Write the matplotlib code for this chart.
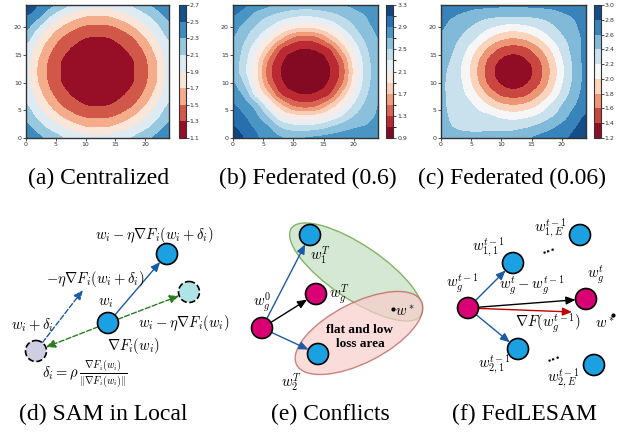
import numpy as np
import matplotlib
matplotlib.use("Agg")
import matplotlib.pyplot as plt
from matplotlib.colors import BoundaryNorm, ListedColormap
from matplotlib.patches import Circle, Ellipse

plt.rcParams['mathtext.fontset'] = 'cm'

W, H = 622, 432
SERIF = ['Liberation Serif', 'DejaVu Serif']

# loss landscape grids, rows are y = 0, 2, ..., 24
GRID = [0, 2, 4, 6, 8, 10, 12, 14, 16, 18, 20, 22, 24]

LOSS_CENTRAL = [
    [2.48, 2.36, 2.24, 2.12, 2.04, 1.98, 1.96, 1.98, 2.04, 2.12, 2.24, 2.36, 2.48],
    [2.36, 2.20, 2.05, 1.92, 1.80, 1.71, 1.69, 1.71, 1.80, 1.92, 2.05, 2.20, 2.36],
    [2.24, 2.05, 1.87, 1.69, 1.55, 1.47, 1.45, 1.47, 1.55, 1.69, 1.87, 2.05, 2.24],
    [2.12, 1.92, 1.69, 1.49, 1.38, 1.30, 1.29, 1.30, 1.38, 1.49, 1.69, 1.92, 2.12],
    [2.04, 1.80, 1.55, 1.38, 1.27, 1.22, 1.21, 1.22, 1.27, 1.38, 1.55, 1.80, 2.04],
    [1.98, 1.71, 1.47, 1.30, 1.22, 1.18, 1.17, 1.18, 1.22, 1.30, 1.47, 1.71, 1.98],
    [1.96, 1.69, 1.45, 1.29, 1.21, 1.17, 1.15, 1.17, 1.21, 1.29, 1.45, 1.69, 1.96],
    [1.98, 1.71, 1.47, 1.30, 1.22, 1.18, 1.17, 1.18, 1.22, 1.30, 1.47, 1.71, 1.98],
    [2.04, 1.80, 1.55, 1.38, 1.27, 1.22, 1.21, 1.22, 1.27, 1.38, 1.55, 1.80, 2.04],
    [2.20, 1.92, 1.69, 1.49, 1.38, 1.30, 1.29, 1.30, 1.38, 1.49, 1.69, 1.92, 2.12],
    [2.36, 2.12, 1.87, 1.69, 1.55, 1.47, 1.45, 1.47, 1.55, 1.69, 1.87, 2.05, 2.24],
    [2.50, 2.36, 2.12, 1.92, 1.80, 1.71, 1.69, 1.71, 1.80, 1.92, 2.05, 2.20, 2.36],
    [2.68, 2.50, 2.36, 2.20, 2.04, 1.98, 1.96, 1.98, 2.04, 2.12, 2.24, 2.36, 2.48],
]
LOSS_FED_06 = [
    [3.25, 3.08, 2.92, 2.80, 2.72, 2.66, 2.71, 2.74, 2.77, 2.80, 2.82, 2.84, 2.85],
    [3.12, 2.98, 2.85, 2.70, 2.48, 2.38, 2.36, 2.40, 2.50, 2.60, 2.68, 2.72, 2.78],
    [3.00, 2.90, 2.72, 2.45, 2.11, 1.97, 1.92, 1.97, 2.11, 2.30, 2.50, 2.62, 2.72],
    [2.92, 2.78, 2.55, 2.10, 1.73, 1.46, 1.38, 1.46, 1.73, 2.02, 2.32, 2.55, 2.70],
    [2.80, 2.62, 2.15, 1.73, 1.29, 1.14, 1.09, 1.14, 1.29, 1.73, 2.14, 2.46, 2.65],
    [2.72, 2.45, 1.97, 1.46, 1.14, 1.02, 0.99, 1.02, 1.14, 1.46, 2.00, 2.40, 2.62],
    [2.62, 2.33, 1.92, 1.38, 1.09, 0.99, 0.95, 0.99, 1.09, 1.38, 1.95, 2.37, 2.61],
    [2.62, 2.36, 1.97, 1.46, 1.14, 1.02, 0.99, 1.02, 1.14, 1.46, 2.00, 2.40, 2.62],
    [2.66, 2.42, 2.11, 1.73, 1.29, 1.14, 1.09, 1.14, 1.29, 1.73, 2.14, 2.46, 2.65],
    [2.70, 2.52, 2.30, 2.02, 1.73, 1.46, 1.38, 1.46, 1.73, 2.02, 2.32, 2.55, 2.70],
    [2.78, 2.62, 2.46, 2.30, 2.11, 1.97, 1.92, 1.97, 2.11, 2.30, 2.48, 2.64, 2.74],
    [2.90, 2.78, 2.60, 2.50, 2.40, 2.33, 2.30, 2.33, 2.40, 2.50, 2.60, 2.70, 2.80],
    [3.02, 2.92, 2.80, 2.72, 2.64, 2.60, 2.58, 2.60, 2.63, 2.68, 2.74, 2.80, 2.86],
]
LOSS_FED_006 = [
    [2.50, 2.47, 2.45, 2.44, 2.45, 2.47, 2.50, 2.57, 2.64, 2.70, 2.76, 2.84, 2.92],
    [2.46, 2.40, 2.37, 2.36, 2.36, 2.34, 2.34, 2.38, 2.45, 2.55, 2.66, 2.78, 2.88],
    [2.44, 2.37, 2.32, 2.26, 2.23, 2.15, 2.11, 2.15, 2.23, 2.36, 2.50, 2.68, 2.82],
    [2.43, 2.35, 2.28, 2.16, 1.99, 1.85, 1.80, 1.85, 1.99, 2.20, 2.40, 2.58, 2.72],
    [2.43, 2.33, 2.20, 1.99, 1.74, 1.55, 1.50, 1.55, 1.74, 1.99, 2.26, 2.50, 2.68],
    [2.43, 2.32, 2.15, 1.85, 1.55, 1.38, 1.31, 1.38, 1.55, 1.85, 2.18, 2.45, 2.66],
    [2.45, 2.32, 2.11, 1.80, 1.50, 1.31, 1.25, 1.31, 1.50, 1.80, 2.14, 2.44, 2.66],
    [2.48, 2.36, 2.15, 1.85, 1.55, 1.38, 1.31, 1.38, 1.55, 1.85, 2.18, 2.45, 2.66],
    [2.52, 2.41, 2.23, 1.99, 1.74, 1.55, 1.50, 1.55, 1.74, 1.99, 2.26, 2.48, 2.66],
    [2.57, 2.46, 2.34, 2.18, 1.99, 1.85, 1.80, 1.85, 1.99, 2.18, 2.36, 2.50, 2.66],
    [2.62, 2.53, 2.44, 2.34, 2.23, 2.15, 2.11, 2.15, 2.23, 2.34, 2.46, 2.56, 2.68],
    [2.66, 2.61, 2.55, 2.48, 2.44, 2.42, 2.41, 2.42, 2.44, 2.48, 2.56, 2.62, 2.70],
    [2.74, 2.70, 2.67, 2.65, 2.64, 2.63, 2.63, 2.63, 2.64, 2.65, 2.67, 2.70, 2.74],
]

LEVELS_CENTRAL = [1.1, 1.3, 1.5, 1.7, 1.9, 2.1, 2.3, 2.5, 2.7]
LEVELS_FED_06 = [0.9, 1.1, 1.3, 1.5, 1.7, 1.9, 2.1, 2.3, 2.5, 2.7, 2.9, 3.1, 3.3]
LEVELS_FED_006 = [1.2, 1.4, 1.6, 1.8, 2.0, 2.2, 2.4, 2.6, 2.8, 3.0]
TICKS_CENTRAL = ['1.1', '1.3', '1.5', '1.7', '1.9', '2.1', '2.3', '2.5', '2.7']
TICKS_FED_06 = ['0.9', '1.3', '1.7', '2.1', '2.5', '2.9', '3.3']
TICKS_FED_006 = ['1.2', '1.4', '1.6', '1.8', '2.0', '2.2', '2.4', '2.6', '2.8', '3.0']

CAPTIONS = ['(a) Centralized', '(b) Federated (0.6)', '(c) Federated (0.06)',
            '(d) SAM in Local', '(e) Conflicts', '(f) FedLESAM']

BLUE = '#1ba1e2'
MAGENTA = '#d80073'
ARROW_BLUE = '#1c5aa6'
ARROW_GREEN = '#2a7d1e'
ARROW_RED = '#c00000'
R = 10.5


def px_box(x0, y0, x1, y1):
    return [x0 / W, 1 - y1 / H, (x1 - x0) / W, (y1 - y0) / H]


def contour_panel(fig, box, cbox, z, levels, ticklabels):
    ax = fig.add_axes(px_box(*box))
    n = len(levels) - 1
    # same band colours contourf would give: RdBu sampled at band middles
    cmap = ListedColormap(plt.get_cmap('RdBu')((np.arange(n) + 0.5) / n))
    norm = BoundaryNorm(levels, n)
    step = GRID[1] - GRID[0]
    ext = (GRID[0] - step / 2, GRID[-1] + step / 2) * 2
    im = ax.imshow(np.asarray(z), origin='lower', extent=ext, cmap=cmap, norm=norm,
                   interpolation='catrom', interpolation_stage='data', aspect='auto')
    ax.set_xlim(0, 24)
    ax.set_ylim(0, 24)
    ax.set_xticks([0, 5, 10, 15, 20])
    ax.set_yticks([0, 5, 10, 15, 20])
    ax.tick_params(labelsize=4.5, length=2, width=0.6, pad=1, colors='#333333')
    for sp in ax.spines.values():
        sp.set_linewidth(1.0)
        sp.set_color('#333333')
    cax = fig.add_axes(px_box(*cbox))
    ticks = [float(t) for t in ticklabels]
    cb = fig.colorbar(im, cax=cax, ticks=ticks)
    cb.ax.set_yticklabels(ticklabels)
    cb.ax.tick_params(labelsize=4.5, length=2, width=0.6, pad=1, colors='#333333')
    cb.outline.set_linewidth(0.8)
    cb.outline.set_edgecolor('#333333')


def node(ax, xy, fc, dashed=False):
    ax.add_patch(Circle(xy, R, fc=fc, ec='black', lw=1.2,
                        ls='--' if dashed else '-', zorder=3))


def arrow(ax, p0, p1, color, ls='-', r0=R, r1=R):
    p0 = np.array(p0, float)
    p1 = np.array(p1, float)
    d = (p1 - p0) / np.hypot(*(p1 - p0))
    a = p0 + d * r0
    b = p1 - d * r1
    ax.annotate('', xy=b, xytext=a, zorder=2,
                arrowprops=dict(arrowstyle='-|>,head_length=0.7,head_width=0.3',
                                color=color, lw=1.0, linestyle=ls,
                                shrinkA=0, shrinkB=0, mutation_scale=8))


def label(ax, xy, s, size=10.5, **kw):
    ax.text(xy[0], xy[1], s, fontsize=size, ha='center', va='center', zorder=4, **kw)


fig = plt.figure(figsize=(W / 100, H / 100), dpi=100)

contour_panel(fig, (26, 5, 169, 138), (179, 5, 185.5, 138), LOSS_CENTRAL,
              LEVELS_CENTRAL, TICKS_CENTRAL)
contour_panel(fig, (233, 5, 378, 138), (386.5, 5, 393, 138), LOSS_FED_06,
              LEVELS_FED_06, TICKS_FED_06)
contour_panel(fig, (441, 5, 586, 138), (594, 5, 600.5, 138), LOSS_FED_006,
              LEVELS_FED_006, TICKS_FED_006)

ax = fig.add_axes([0, 0, 1, 1])
ax.set_xlim(0, W)
ax.set_ylim(H, 0)
ax.axis('off')

# (d) SAM in Local
w_i, w_top, w_cyan, w_pert = (108, 323), (167, 254), (189, 292), (36, 351)
arrow(ax, w_i, w_top, ARROW_BLUE)
arrow(ax, w_pert, (83, 290), ARROW_BLUE, ls='--', r1=0)
arrow(ax, w_i, w_pert, ARROW_GREEN, ls='--')
arrow(ax, w_i, w_cyan, ARROW_GREEN, ls='--')
node(ax, w_i, BLUE)
node(ax, w_top, BLUE)
node(ax, w_cyan, '#b0e3e6', dashed=True)
node(ax, w_pert, '#d0cee2', dashed=True)
label(ax, (154, 235), r'$w_i-\eta\nabla F_i(w_i+\delta_i)$')
label(ax, (95, 279), r'$-\eta\nabla F_i(w_i+\delta_i)$')
label(ax, (106, 302), r'$w_i$')
label(ax, (184, 323), r'$w_i-\eta\nabla F_i(w_i)$')
label(ax, (32, 325), r'$w_i+\delta_i$')
label(ax, (133, 346), r'$\nabla F_i(w_i)$')
label(ax, (85, 374), r'$\delta_i=\rho\,\frac{\nabla F_i(w_i)}{\|\nabla F_i(w_i)\|}$')

# (e) Conflicts
ax.add_patch(Ellipse((356, 272), 156, 54, angle=34, fc='#d5e8d4', ec='#82b366',
                     lw=1.0, zorder=1))
ax.add_patch(Ellipse((359, 333), 140, 60, angle=-27, fc='#f8cecc', ec='#b85450',
                     lw=1.0, alpha=0.7, zorder=1))
g0, g1, gT, g2 = (262, 328), (310, 235), (316, 294), (318, 354)
arrow(ax, g0, g1, ARROW_BLUE)
arrow(ax, g0, gT, 'black')
arrow(ax, g0, g2, ARROW_BLUE)
node(ax, g0, MAGENTA)
node(ax, gT, MAGENTA)
node(ax, g1, BLUE)
node(ax, g2, BLUE)
label(ax, (320, 255), r'$w_1^T$')
label(ax, (339, 294), r'$w_g^T$')
label(ax, (262, 302), r'$w_g^0$')
label(ax, (291, 382), r'$w_2^T$')
ax.plot(393, 309, 'o', color='black', ms=2, zorder=4)
label(ax, (405, 312), r'$w^*$')
ax.text(360, 337, 'flat and low\nloss area', fontsize=9.5, fontweight='bold',
        family=SERIF, ha='center', va='center', linespacing=1.15, zorder=4)

# (f) FedLESAM
f0, f11, f1E, fT, f21, f2E = (468, 308), (513, 263), (580, 235), (586, 299), (518, 349), (594, 365)
arrow(ax, f0, f11, ARROW_BLUE)
arrow(ax, f0, f21, ARROW_BLUE)
arrow(ax, f0, fT, 'black')
arrow(ax, f0, (572, 312), ARROW_RED, r1=0)
node(ax, f0, MAGENTA)
node(ax, fT, MAGENTA)
for p in (f11, f1E, f21, f2E):
    node(ax, p, BLUE)
label(ax, (462, 283), r'$w_g^{t-1}$')
label(ax, (488, 247), r'$w_{1,1}^{t-1}$')
label(ax, (550, 228), r'$w_{1,E}^{t-1}$')
label(ax, (596, 275), r'$w_g^t$')
label(ax, (532, 285), r'$w_g^t-w_g^{t-1}$')
label(ax, (548, 323), r'$\nabla F(w_g^{t-1})$')
ax.plot(613, 315, 'o', color='black', ms=2, zorder=4)
label(ax, (605, 324), r'$w^*$')
label(ax, (494, 364), r'$w_{2,1}^{t-1}$')
label(ax, (563, 378), r'$w_{2,E}^{t-1}$')
label(ax, (548, 248), '...', size=9, fontweight='bold', rotation=20)
label(ax, (553, 356), '...', size=9, fontweight='bold', rotation=20)

# captions
cap_xy = [(99, 178), (308, 178), (512, 178), (103, 414), (330, 414), (524, 414)]
for (x, y), s in zip(cap_xy, CAPTIONS):
    ax.text(x, y, s, fontsize=17, family=SERIF, ha='center', va='center')

fig.savefig('out.png', dpi=100)
